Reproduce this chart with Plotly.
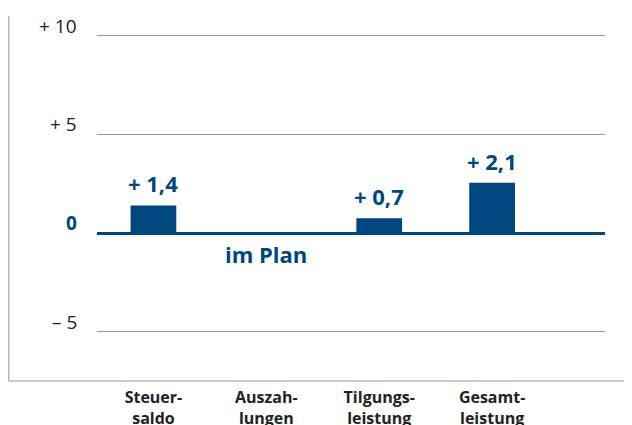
import plotly.graph_objects as go

categories = ["Steuer-<br>saldo", "Auszah-<br>lungen", "Tilgungs-<br>leistung", "Gesamt-<br>leistung"]
bar_values = [1.4, 0.0, 0.75, 2.55]
bar_labels = ["+ 1,4", "", "+ 0,7", "+ 2,1"]
note_text = "im Plan"
note_category = 1
y_ticks = [10, 5, 0, -5]
y_tick_labels = ["+ 10", "+ 5", "0", "– 5"]

BLUE = "#00467f"
FONT = "Open Sans"

x_pos = list(range(len(categories)))

# page body has an 8px margin, so the figure is drawn 8px smaller and offset
fig = go.Figure()
fig.add_trace(go.Bar(
    x=x_pos, y=bar_values, width=0.405,
    marker=dict(color=BLUE, line=dict(width=0)),
    hoverinfo="skip",
))

annotations = []
for x, v, lab in zip(x_pos, bar_values, bar_labels):
    if lab:
        annotations.append(dict(
            x=x, y=v, xref="x", yref="y", text=f"<b>{lab}</b>", showarrow=False,
            xanchor="center", yanchor="bottom", yshift=5,
            font=dict(family=FONT, size=22, color=BLUE)))
annotations.append(dict(
    x=note_category, y=0, xref="x", yref="y", text=f"<b>{note_text}</b>", showarrow=False,
    xanchor="center", yanchor="top", yshift=-4,
    font=dict(family=FONT, size=22, color=BLUE)))
for v, lab in zip(y_ticks, y_tick_labels):
    is_zero = v == 0
    annotations.append(dict(
        x=-0.035, y=v, xref="paper", yref="y",
        text=f"<b>{lab}</b>" if is_zero else lab, showarrow=False,
        xanchor="right", yanchor="bottom", yshift=-5,
        font=dict(family=FONT, size=19, color=BLUE if is_zero else "#222222")))

fig.update_layout(
    width=624, height=417,
    margin=dict(l=89, r=27, t=8, b=44, autoexpand=False),
    paper_bgcolor="white", plot_bgcolor="white",
    showlegend=False,
    annotations=annotations,
    shapes=[
        dict(type="line", xref="paper", yref="paper", x0=-0.1737, x1=-0.1737, y0=0, y1=1,
             line=dict(color="#b8b8b8", width=1.5)),
        dict(type="line", xref="paper", yref="paper", x0=-0.1737, x1=1.06, y0=0, y1=0,
             line=dict(color="#b8b8b8", width=1.5)),
    ],
)
fig.update_xaxes(
    range=[-0.5, 4.0], tickmode="array", tickvals=x_pos,
    ticktext=[f"<b>{c}</b>" for c in categories],
    tickfont=dict(family=FONT, size=16, color="#222222"),
    showgrid=False, zeroline=False, showline=False, ticks="", ticklabelstandoff=5,
    automargin=False,
)
fig.update_yaxes(
    range=[-7.5, 11], tickmode="array", tickvals=[10, 5, -5], showticklabels=False,
    showgrid=True, gridcolor="#9a9a9a", gridwidth=1,
    zeroline=True, zerolinecolor=BLUE, zerolinewidth=2.5, showline=False, ticks="",
    automargin=False,
)

fig.write_html("out.html")
